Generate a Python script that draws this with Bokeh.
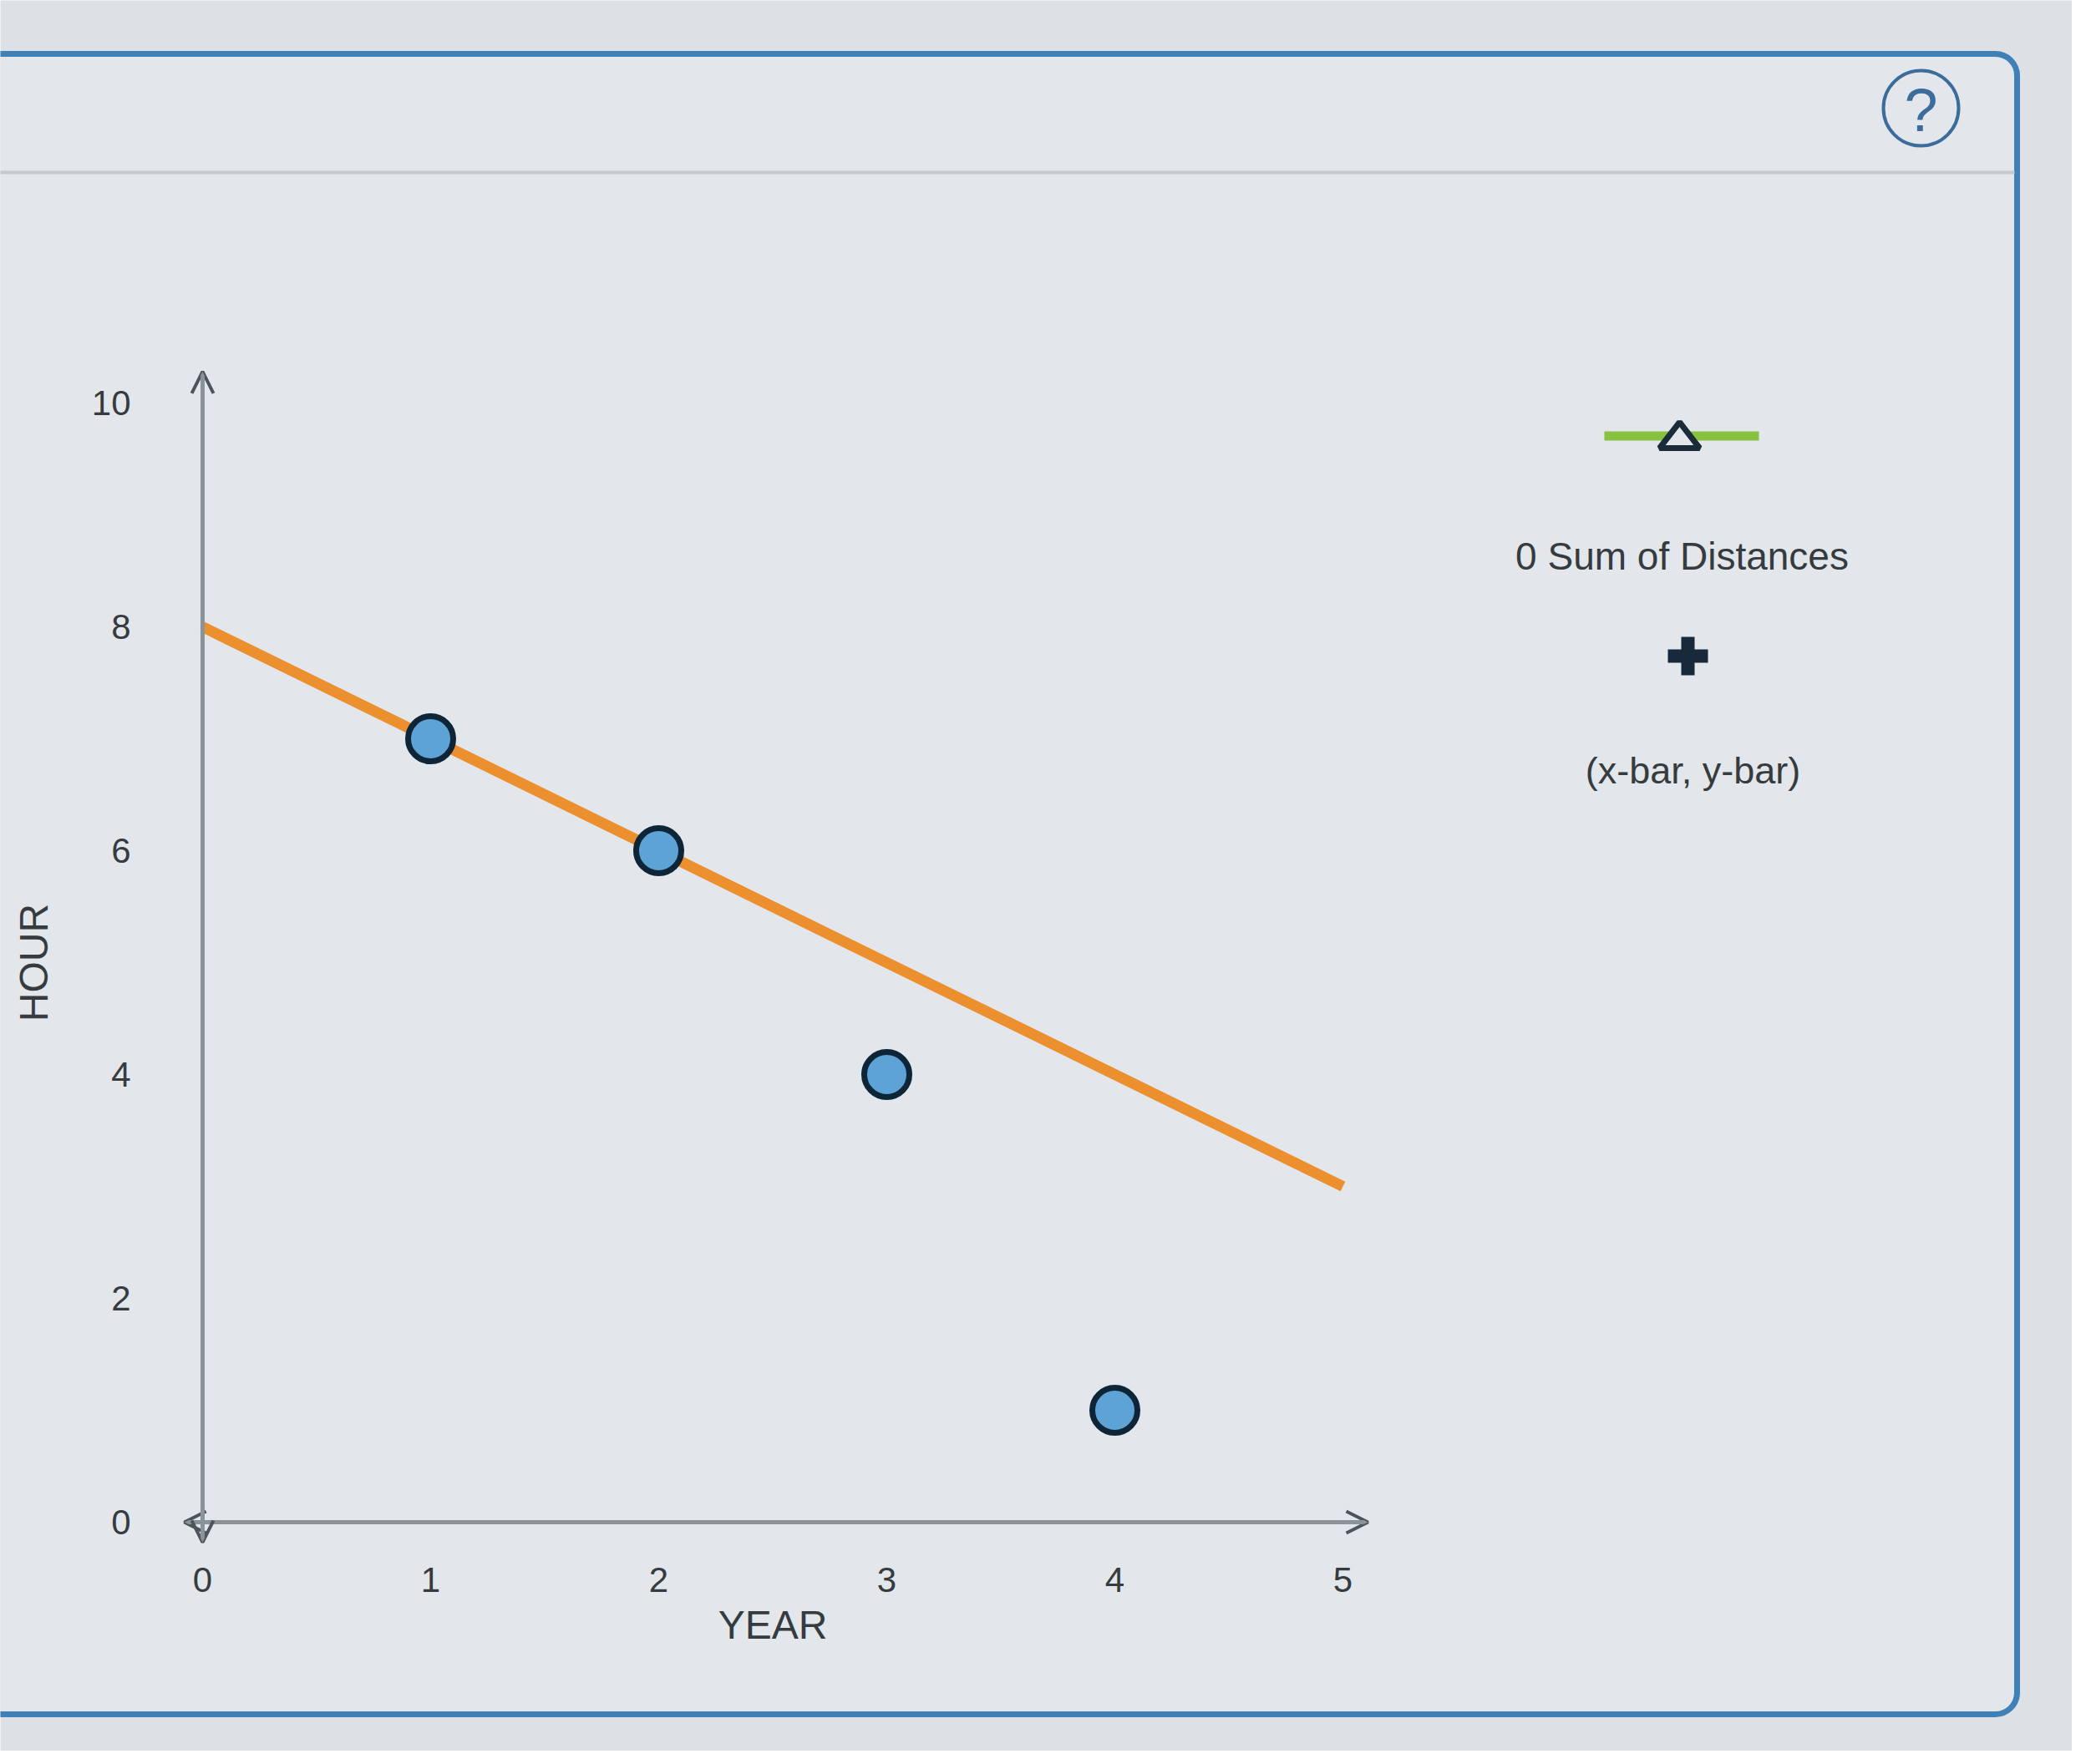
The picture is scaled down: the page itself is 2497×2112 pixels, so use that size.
from bokeh.plotting import figure
from bokeh.models import (Range1d, LinearAxis, FixedTicker, Arrow, OpenHead,
                          BoxAnnotation, PolyAnnotation, Label)
from bokeh.embed import file_html
from bokeh.resources import INLINE

# ---- data ----
year = [1, 2, 3, 4]
hour = [7, 6, 4, 1]
fit_x = [0, 5]
fit_y = [8, 3]
x_ticks = [0, 1, 2, 3, 4, 5]
y_ticks = [0, 2, 4, 6, 8, 10]
x_label = "YEAR"
y_label = "HOUR"
legend_labels = ["0 Sum of Distances", "(x-bar, y-bar)"]
help_text = "?"

# ---- layout constants ----
W, H = 2480, 2096
PX_X, X0 = 273.0, 242.0      # px per unit, canvas x of x=0
PX_Y, Y0 = 134.0, 1822.0     # px per unit, canvas y (from top) of y=0
FONT = "Liberation Sans"
BG = "#dde1e6"
PANEL = "#e3e7eb"
TXT = "#363b40"
CANVAS = dict(left_units="canvas", right_units="canvas",
              top_units="canvas", bottom_units="canvas")

p = figure(width=W, height=H, output_backend="svg", toolbar_location=None,
           x_axis_type=None, y_axis_type=None,
           x_range=Range1d(-X0 / PX_X, (W - X0) / PX_X),
           y_range=Range1d(-(H - Y0) / PX_Y, Y0 / PX_Y),
           min_border=0, min_border_left=0, min_border_right=0,
           min_border_top=0, min_border_bottom=0)
p.background_fill_color = BG
p.border_fill_color = BG
p.outline_line_color = None

# panel frame, divider and help icon
p.add_layout(BoxAnnotation(left=-30, right=2414, top=64, bottom=2052, **CANVAS,
                           fill_color=PANEL, fill_alpha=1.0,
                           line_color="#3f80b7", line_alpha=1.0, line_width=7,
                           border_radius=26, level="underlay"))
p.add_layout(BoxAnnotation(left=-30, right=2411, top=204, bottom=208, **CANVAS,
                           fill_color="#c3c8cd", fill_alpha=1.0, line_color=None,
                           level="underlay"))
p.add_layout(BoxAnnotation(left=2254, right=2344, top=84, bottom=174, **CANVAS,
                           fill_color=None, line_color="#3c6c9b", line_alpha=1.0,
                           line_width=4, border_radius=45))
p.add_layout(Label(x=2299, y=131, x_units="canvas", y_units="canvas",
                   text=help_text, text_align="center", text_baseline="middle",
                   text_font=FONT, text_font_size="72px", text_color="#3c6c9b"))

# axes (library axes fixed at the origin)
xaxis = LinearAxis(fixed_location=0, ticker=FixedTicker(ticks=x_ticks),
                   bounds=(x_ticks[0], x_ticks[-1]), axis_label=x_label)
yaxis = LinearAxis(fixed_location=0, ticker=FixedTicker(ticks=y_ticks),
                   bounds=(y_ticks[0], y_ticks[-1]), axis_label=y_label)
for ax, so, lso in ((xaxis, 48, 10), (yaxis, 80, 40)):
    ax.axis_line_color = None
    ax.major_tick_line_color = None
    ax.minor_tick_line_color = None
    ax.major_label_standoff = so
    ax.axis_label_standoff = lso
    ax.major_label_text_font = FONT
    ax.major_label_text_font_size = "42px"
    ax.major_label_text_color = TXT
    ax.axis_label_text_font = FONT
    ax.axis_label_text_font_size = "48px"
    ax.axis_label_text_font_style = "normal"
    ax.axis_label_text_color = TXT
p.add_layout(xaxis, "below")
p.add_layout(yaxis, "left")

# axis lines with arrowheads at both ends
AX_X = (-0.08, 5.11)
AX_Y = (-0.18, 10.28)
head = dict(size=26, line_width=4, line_color="#4d545b")
p.add_layout(Arrow(x_start=AX_X[0], y_start=0, x_end=AX_X[1], y_end=0,
                   start=OpenHead(**head), end=OpenHead(**head),
                   line_color="#8b9298", line_width=5))
p.add_layout(Arrow(x_start=0, y_start=AX_Y[0], x_end=0, y_end=AX_Y[1],
                   start=OpenHead(**head), end=OpenHead(**head),
                   line_color="#8b9298", line_width=5))

# fitted line and data points
p.line(fit_x, fit_y, line_width=13, line_color="#ec8f2e")
p.scatter(year, hour, size=54, marker="circle", fill_color="#5ea3d6",
          line_color="#0e2437", line_width=7)

# legend (drawn as annotations on the right)
p.add_layout(BoxAnnotation(left=1920, right=2105, top=516, bottom=527, **CANVAS,
                           fill_color="#86c140", fill_alpha=1.0, line_color=None))
p.add_layout(PolyAnnotation(xs=[2010, 1986, 2034], ys=[505, 536, 536],
                            xs_units="canvas", ys_units="canvas",
                            fill_color=PANEL, fill_alpha=1.0,
                            line_color="#1c2b38", line_alpha=1.0, line_width=7))
p.add_layout(Label(x=2013, y=665, x_units="canvas", y_units="canvas",
                   text=legend_labels[0], text_align="center", text_baseline="middle",
                   text_font=FONT, text_font_size="46px", text_color=TXT))
for l, r, t, b in ((1996, 2044, 777, 793), (2012, 2028, 762, 808)):
    p.add_layout(BoxAnnotation(left=l, right=r, top=t, bottom=b, **CANVAS,
                               fill_color="#17293a", fill_alpha=1.0, line_color=None))
p.add_layout(Label(x=2026, y=922, x_units="canvas", y_units="canvas",
                   text=legend_labels[1], text_align="center", text_baseline="middle",
                   text_font=FONT, text_font_size="45px", text_color=TXT))

open("out.html", "w").write(file_html(p, INLINE))
